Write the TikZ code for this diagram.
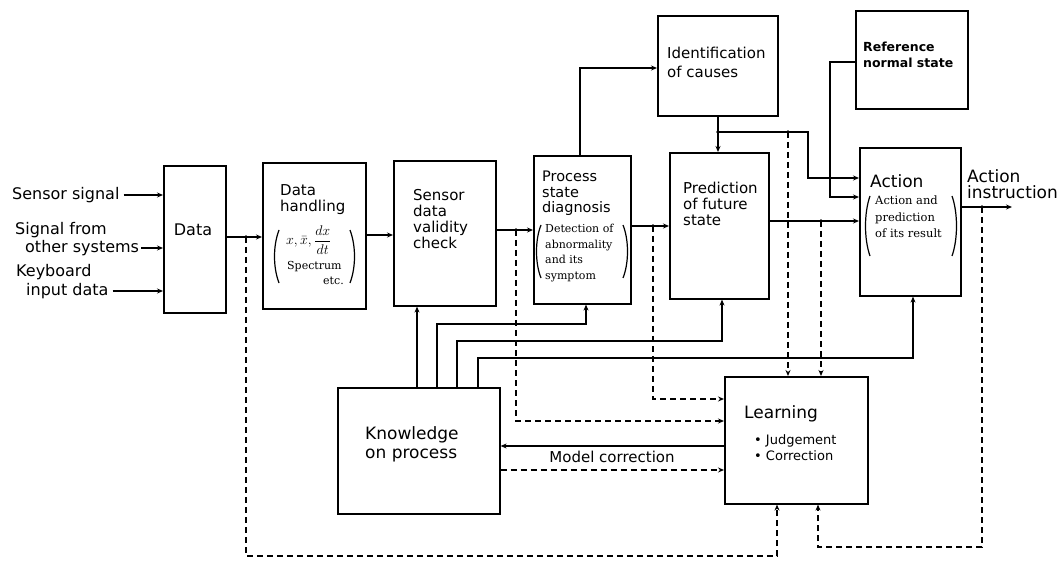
\RequirePackage{fix-cm}
\documentclass[tikz,border=0pt]{standalone}
\usepackage{fontspec}
\setmainfont{DejaVu Sans}
\newfontfamily\smallserif{DejaVu Serif}
\usetikzlibrary{arrows.meta}
\begin{document}
\begin{tikzpicture}[x=1pt,y=-1pt,
  box/.style={draw, line width=1.6pt, anchor=north west, inner sep=0pt},
  lbl/.style={inner sep=0pt, anchor=north west, align=left},
  inlbl/.style={inner sep=0pt, anchor=west, font=\fontsize{16}{18}\selectfont},
  conn/.style={line width=1.5pt, -{Stealth[length=6pt,width=5pt]}},
  dsh/.style={line width=1.6pt, dash pattern=on 6pt off 4pt, -{Stealth[length=6pt,width=5pt]}},
  par/.style={line width=1.2pt},
  f15/.style={font=\fontsize{15}{16}\selectfont},
  f17/.style={font=\fontsize{17}{19}\selectfont},
  sm/.style={font=\smallserif\fontsize{11}{15.5}\selectfont}]
\useasboundingbox (0,0) rectangle (1061,564);

% ---- blocks ----
\node[box, minimum width=62pt,  minimum height=147pt] (data)     at (163,165) {};
\node[box, minimum width=103pt, minimum height=146pt] (handling) at (262,162) {};
\node[box, minimum width=102pt, minimum height=145pt] (sensor)   at (393,160) {};
\node[box, minimum width=97pt,  minimum height=148pt] (process)  at (533,155) {};
\node[box, minimum width=99pt,  minimum height=146pt] (predict)  at (669,152) {};
\node[box, minimum width=120pt, minimum height=100pt] (ident)    at (657,15)  {};
\node[box, minimum width=112pt, minimum height=98pt]  (refst)    at (855,10)  {};
\node[box, minimum width=101pt, minimum height=148pt] (action)   at (859,147) {};
\node[box, minimum width=162pt, minimum height=126pt] (know)     at (337,387) {};
\node[box, minimum width=143pt, minimum height=127pt] (learn)    at (724,376) {};

% ---- block texts ----
\node[inner sep=0pt, font=\fontsize{16}{18}\selectfont] (tdata) at (193,230) {Data};
\node[lbl, f15] (thand) at (280,184) {Data\\handling};
\node[inner sep=0pt, anchor=west, font=\fontsize{14}{16}\selectfont] (tform) at (286,240) {$\displaystyle x,\bar{x},\frac{dx}{dt}$};
\node[inner sep=0pt, anchor=west, font=\smallserif\fontsize{11}{13}\selectfont] (tspec) at (287,267) {Spectrum};
\node[inner sep=0pt, anchor=west, font=\smallserif\fontsize{11}{13}\selectfont] (tetc) at (323,281) {etc.};
\node[lbl, f15] (tsens) at (413,189) {Sensor\\data\\validity\\check};
\node[lbl, font=\fontsize{14.5}{15.5}\selectfont] (tproc) at (542,171) {Process\\state\\diagnosis};
\node[lbl, sm] (tdet) at (545,224) {Detection of\\abnormality\\and its\\symptom};
\node[lbl, f15] (tpred) at (683,182) {Prediction\\of future\\state};
\node[lbl, font=\fontsize{15}{18.5}\selectfont] (tident) at (667,47) {Identification\\of causes};
\node[lbl, font=\bfseries\fontsize{12.5}{16}\selectfont] (tref) at (863,42) {Reference\\normal state};
\node[lbl, f17] (tact) at (870,174) {Action};
\node[lbl, font=\smallserif\fontsize{11.5}{16.5}\selectfont] (tactp) at (875,196) {Action and\\prediction\\of its result};
\node[lbl, f17] (tlearn) at (744,405) {Learning};
\node[lbl, font=\fontsize{13}{16}\selectfont] (tjudge) at (754,434) {\textbullet\ Judgement\\\textbullet\ Correction};
\node[lbl, f17] (tknow) at (365,426) {Knowledge\\on process};
\node[inner sep=0pt, f15] (tmodel) at (612,457) {Model correction};
\node[lbl, font=\fontsize{17}{16.5}\selectfont] (tout) at (967,169) {Action\\instruction};

% ---- input signals ----
\node[inlbl] (sig1)  at (12,195) {Sensor signal};
\node[inlbl] (sig2a) at (15,230) {Signal from};
\node[inlbl] (sig2b) at (25,248) {other systems};
\node[inlbl] (key1)  at (16,272) {Keyboard};
\node[inlbl] (key2)  at (26,291) {input data};
\draw[conn] ([xshift=4pt]sig1.east)  -- (sig1.east -| data.west);
\draw[conn] ([xshift=2pt]sig2b.east) -- (sig2b.east -| data.west);
\draw[conn] ([xshift=4pt]key2.east)  -- (key2.east -| data.west);

% ---- brackets ----
\draw[par] (279,230) .. controls (273,246) and (273,267) .. (279,283);
\draw[par] (350,230) .. controls (356,246) and (356,267) .. (350,283);
\draw[par] (541,225) .. controls (535,240) and (535,263) .. (541,278);
\draw[par] (623,225) .. controls (629,240) and (629,263) .. (623,278);
\draw[par] (870,196) .. controls (864,213) and (864,239) .. (870,256);
\draw[par] (952,196) .. controls (958,213) and (958,239) .. (952,256);

% ---- levels and junctions ----
\coordinate (yD) at (0,237);
\coordinate (yH) at (0,235);
\coordinate (yS) at (0,230);
\coordinate (yP) at (0,226);
\coordinate (yF) at (0,221);
\coordinate (yA) at (0,207);
\coordinate (out) at (1012,207);
\coordinate (jD) at (246,237);
\coordinate (jS) at (516,230);
\coordinate (jP) at (653,226);
\coordinate (jF) at (821,221);
\coordinate (jA) at (982,207);
\coordinate (jI) at (718,132);
\coordinate (jI2) at (788,132);

% ---- main chain ----
\draw[conn] (data.east |- yD) -- (handling.west |- yD);
\draw[conn] (handling.east |- yH) -- (sensor.west |- yH);
\draw[conn] (sensor.east |- yS) -- (process.west |- yS);
\draw[conn] (process.east |- yP) -- (predict.west |- yP);
\draw[conn] (predict.east |- yF) -- (action.west |- yF);
\draw[conn] (action.east |- yA) -- (out);

% ---- diagnosis to causes, causes to prediction and action ----
\coordinate (colPI) at (580,68);
\draw[conn] (process.north -| colPI) |- (ident.west |- colPI);
\draw[conn] (ident.south -| jI) -- (predict.north -| jI);
\coordinate (turnI) at (808,178);
\draw[conn] (jI) -| (turnI) -- (action.west |- turnI);
\coordinate (rowR) at (0,62);
\coordinate (turnR) at (830,197);
\draw[conn] (refst.west |- rowR) -| (turnR) -- (action.west |- turnR);

% ---- knowledge feeds ----
\coordinate (k1) at (417,0);
\draw[conn] (know.north -| k1) -- (sensor.south -| k1);
\coordinate (k2) at (437,324);
\coordinate (t2) at (586,324);
\draw[conn] (know.north -| k2) -- (k2) -- (t2) -- (process.south -| t2);
\coordinate (k3) at (457,341);
\coordinate (t3) at (722,341);
\draw[conn] (know.north -| k3) -- (k3) -- (t3) -- (predict.south -| t3);
\coordinate (k4) at (478,358);
\coordinate (t4) at (913,358);
\draw[conn] (know.north -| k4) -- (k4) -- (t4) -- (action.south -| t4);

% ---- learning loop ----
\coordinate (rowS) at (0,421);
\coordinate (rowP) at (0,399);
\coordinate (rowM) at (0,446);
\coordinate (rowK) at (0,470);
\coordinate (low1) at (777,556);
\coordinate (low2) at (818,547);
\draw[dsh] (jD) |- (low1) -- (low1 |- learn.south);
\draw[dsh] (jS) |- (learn.west |- rowS);
\draw[dsh] (jP) |- (learn.west |- rowP);
\draw[dsh] (jI2) -- (jI2 |- learn.north);
\draw[dsh] (jF) -- (jF |- learn.north);
\draw[dsh] (jA) |- (low2) -- (low2 |- learn.south);
\draw[conn] (learn.west |- rowM) -- (know.east |- rowM);
\draw[dsh] (know.east |- rowK) -- (learn.west |- rowK);

\foreach \p in {jD,jS,jP,jF,jA,jI,jI2} \fill (\p) circle (1.8pt);
\end{tikzpicture}
\end{document}
